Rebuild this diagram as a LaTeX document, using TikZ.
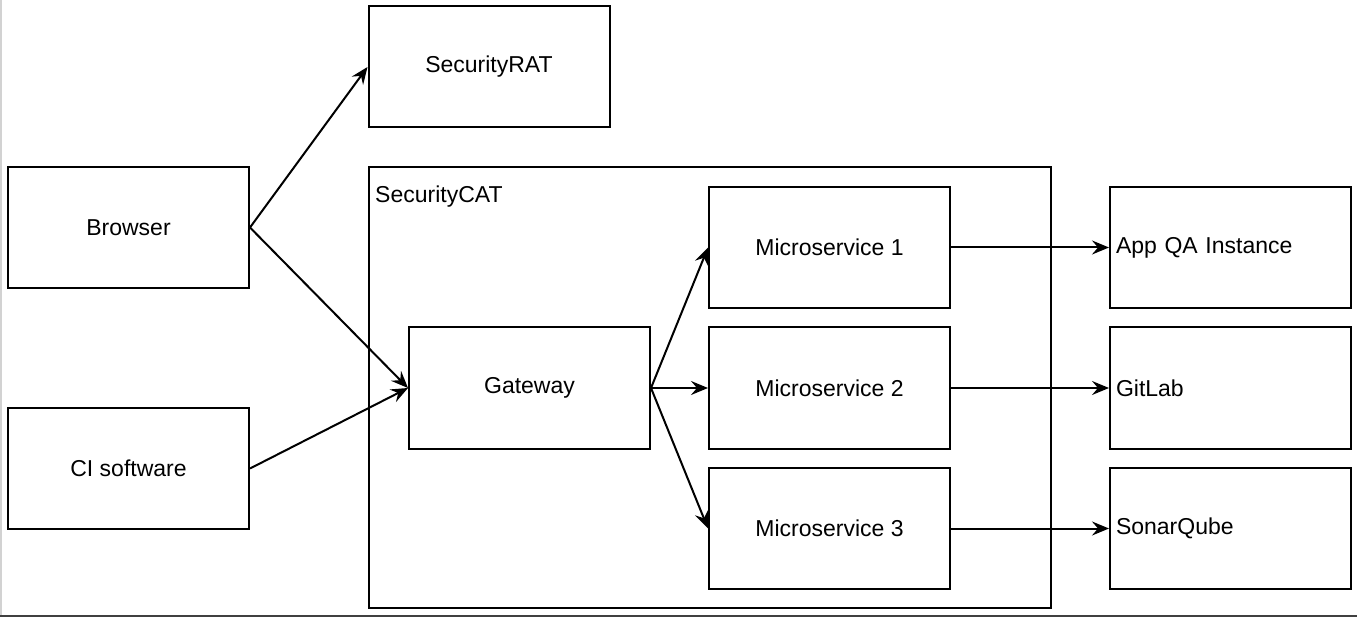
\documentclass[tikz,border=0pt]{standalone}
\usepackage{fontspec}
\setmainfont{Liberation Sans}
\usetikzlibrary{arrows.meta}
\begin{document}
\begin{tikzpicture}[x=1pt,y=-1pt,
  box/.style={draw, line width=2pt, minimum width=241pt, minimum height=121pt, inner sep=0pt,
    font=\fontsize{23}{27}\selectfont},
  lbox/.style={box, text width=229pt, align=left},
  conn/.style={line width=2pt, -{Stealth[length=17pt,width=14pt,inset=6pt]}},
]
\useasboundingbox (0,0) rectangle (1357,617);
\draw[gray!35, line width=1.5pt] (0.75,0) -- (0.75,617);
\draw[black!75, line width=2pt] (0,616) -- (1357,616);

\node[draw, line width=2pt, minimum width=682pt, minimum height=441pt, inner sep=0pt] (cat) at (710,387.5) {};
\node[anchor=base west, inner sep=0pt, font=\fontsize{23}{27}\selectfont] (catlbl) at (375,203) {SecurityCAT};

\node[box] (rat) at (489,67) {SecurityRAT};
\node[box] (browser) at (128.5,227.5) {Browser};
\node[box] (ci) at (128.5,468.5) {CI software};
\node[box] (gw) at (529.5,388) {Gateway};
\node[box] (ms1) at (829.5,247.5) {Microservice 1};
\node[box] (ms2) at (829.5,388) {Microservice 2};
\node[box] (ms3) at (829.5,528.5) {Microservice 3};
\node[lbox] (qa) at (1230.5,247.5) {App QA Instance};
\node[lbox] (git) at (1230.5,388) {GitLab};
\node[lbox] (sonar) at (1230.5,528.5) {SonarQube};

\draw[conn] (browser.east) -- (rat.west);
\draw[conn] (browser.east) -- (gw.west);
\draw[conn] (ci.east) -- (gw.west);
\draw[conn] (gw.east) -- (ms1.west);
\draw[conn] (gw.east) -- (ms2.west);
\draw[conn] (gw.east) -- (ms3.west);
\draw[conn] (ms1.east) -- (qa.west);
\draw[conn] (ms2.east) -- (git.west);
\draw[conn] (ms3.east) -- (sonar.west);
\end{tikzpicture}
\end{document}
